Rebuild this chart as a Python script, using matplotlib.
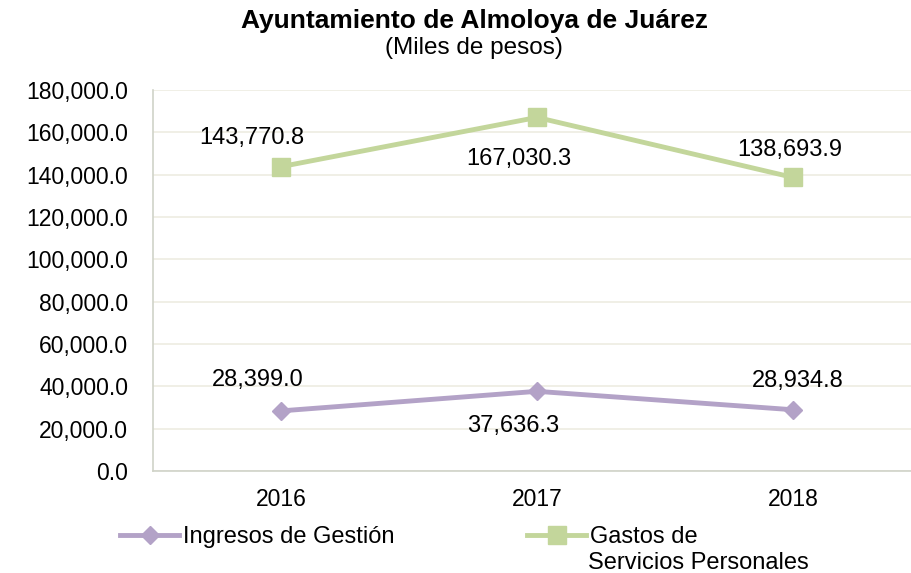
import matplotlib.pyplot as plt
from matplotlib.lines import Line2D
from matplotlib.ticker import FuncFormatter

plt.rcParams['font.family'] = ['Liberation Sans', 'DejaVu Sans']

years = ['2016', '2017', '2018']
ingresos = [28399.0, 37636.3, 28934.8]
gastos = [143770.8, 167030.3, 138693.9]

purple = '#B3A2C7'
green = '#C3D69B'

fig = plt.figure(figsize=(9.12, 5.73), dpi=100)
ax = fig.add_axes([0.1678, 0.178, 0.842, 0.665])

x = range(len(years))
ax.plot(x, ingresos, color=purple, lw=3.5, marker='D', ms=9)
ax.plot(x, gastos, color=green, lw=3.5, marker='s', ms=13)

# data labels (offsets in points)
off_g = [(-21, 20.5), (-13, -30), (-2, 19.5)]
off_i = [(-17, 22), (-17, -25), (3.5, 21)]
for i in x:
    ax.annotate(f'{gastos[i]:,.1f}', (i, gastos[i]), xytext=off_g[i],
                textcoords='offset points', ha='center', va='center', fontsize=17)
    ax.annotate(f'{ingresos[i]:,.1f}', (i, ingresos[i]), xytext=off_i[i],
                textcoords='offset points', ha='center', va='center', fontsize=17)

ax.set_xlim(-0.5, 2.5)
ax.set_ylim(0, 180000)
ax.set_yticks(range(0, 180001, 20000))
ax.yaxis.set_major_formatter(FuncFormatter(lambda v, p: f'{v:,.1f}'))
ax.set_xticks(list(x))
ax.set_xticklabels(years)
ax.tick_params(length=0, labelsize=16.5)
ax.tick_params(axis='x', pad=12)
ax.tick_params(axis='y', pad=18)
ax.grid(axis='y', color='#EEECE1', lw=1.2)
ax.set_axisbelow(True)
for s in ['top', 'right']:
    ax.spines[s].set_visible(False)
for s in ['left', 'bottom']:
    ax.spines[s].set_color('#D0D3C8')
    ax.spines[s].set_linewidth(1.2)

fig.text(0.52, 0.964, 'Ayuntamiento de Almoloya de Juárez', ha='center',
         va='center', fontsize=19, fontweight='bold')
fig.text(0.52, 0.917, '(Miles de pesos)', ha='center', va='center', fontsize=17.5)

# legend
h1 = Line2D([], [], color=purple, lw=3.5, marker='D', ms=9)
h2 = Line2D([], [], color=green, lw=3.5, marker='s', ms=13)
kw = dict(loc='center left', frameon=False, fontsize=17, handlelength=2.5,
          handletextpad=0.15, borderaxespad=0, borderpad=0)
fig.legend([h1], ['Ingresos de Gestión'], bbox_to_anchor=(120 / 912, 1 - 537 / 573), **kw)
fig.legend([h2], ['Gastos de'], bbox_to_anchor=(527 / 912, 1 - 537 / 573), **kw)
fig.text(588 / 912, 1 - 563 / 573, 'Servicios Personales', ha='left', va='center',
         fontsize=17)

fig.savefig('out.png', dpi=100)
